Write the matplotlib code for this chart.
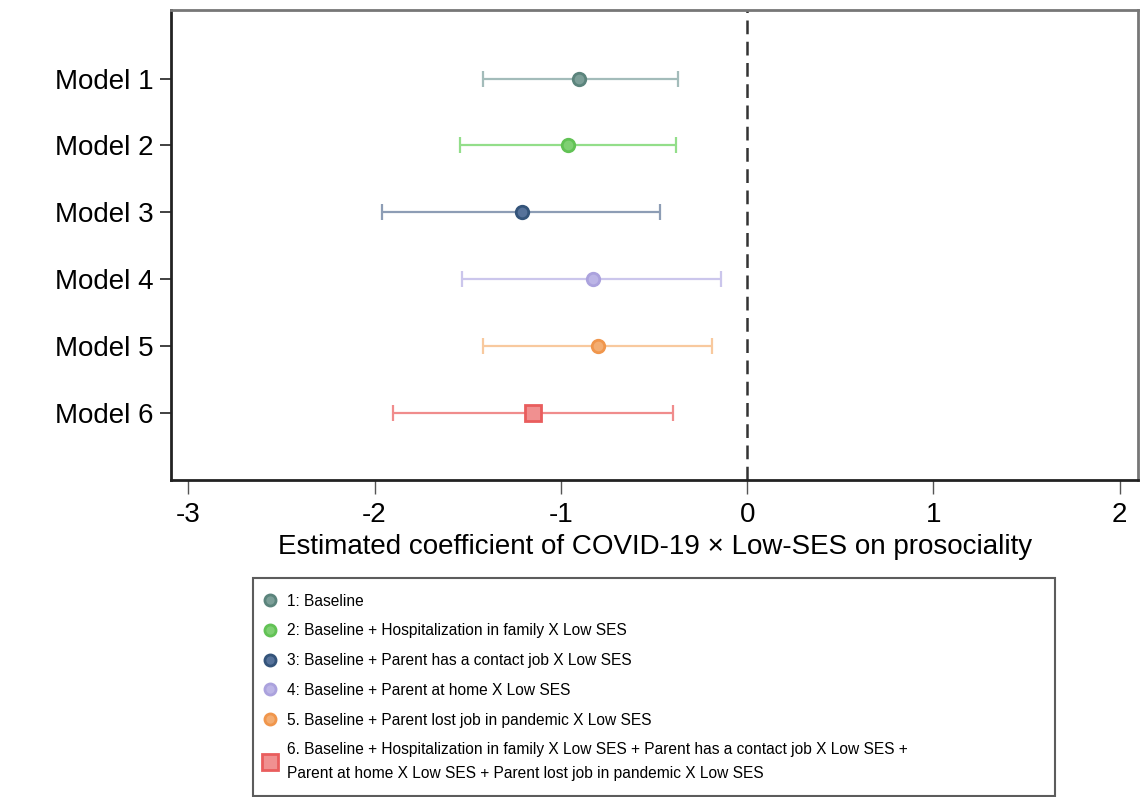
import numpy as np
import matplotlib.pyplot as plt
from matplotlib.lines import Line2D

plt.rcParams['font.family'] = ['Liberation Sans', 'DejaVu Sans']

# estimates and 95% CI
models = ["Model 1", "Model 2", "Model 3", "Model 4", "Model 5", "Model 6"]
coef = [-0.90, -0.96, -1.21, -0.83, -0.80, -1.15]
ci_low = [-1.42, -1.54, -1.96, -1.53, -1.42, -1.90]
ci_high = [-0.37, -0.38, -0.47, -0.14, -0.19, -0.40]
legend_labels = [
    "1: Baseline",
    "2: Baseline + Hospitalization in family X Low SES",
    "3: Baseline + Parent has a contact job X Low SES",
    "4: Baseline + Parent at home X Low SES",
    "5. Baseline + Parent lost job in pandemic X Low SES",
    "6. Baseline + Hospitalization in family X Low SES + Parent has a contact job X Low SES +\n"
    "Parent at home X Low SES + Parent lost job in pandemic X Low SES",
]

line_cols = ["#a3bcba", "#93de8a", "#8d9db5", "#cbc6ec", "#f8c99e", "#f08c8c"]
mark_cols = ["#5b847c", "#62c255", "#34547a", "#aba2dd", "#f0964c", "#e95d5d"]
mark_face = ["#7c9f98", "#7fd073", "#56729a", "#bcb5e6", "#f3ad72", "#f09090"]
markers = ["o", "o", "o", "o", "o", "s"]
sizes = [9, 9, 9, 9, 9, 12]

fig = plt.figure(figsize=(11.43, 7.97), dpi=100)
ax = fig.add_axes([0.150, 0.398, 0.846, 0.589])

ypos = np.arange(1, len(models) + 1)
for i in range(len(models)):
    ax.errorbar(coef[i], ypos[i],
                xerr=[[coef[i] - ci_low[i]], [ci_high[i] - coef[i]]],
                fmt='none', ecolor=line_cols[i], elinewidth=1.6, capsize=5.5, capthick=1.6)
    ax.plot(coef[i], ypos[i], marker=markers[i], ms=sizes[i], color=mark_face[i],
            mec=mark_cols[i], mew=2, linestyle='none')

ax.axvline(0, color='#333333', linestyle=(0, (5.5, 3)), linewidth=1.8)

ax.set_xlim(-3.09, 2.10)
ax.set_ylim(7, -0.02)
ax.set_yticks(ypos)
ax.set_yticklabels(models, fontsize=20)
ax.set_xticks([-3, -2, -1, 0, 1, 2])
ax.set_xticklabels(["-3", "-2", "-1", "0", "1", "2"], fontsize=20)
ax.tick_params(axis='y', length=8, width=1.3, color='#333333', pad=5)
ax.tick_params(axis='x', length=10, width=1.0, color='#555555', pad=6)
ax.set_xlabel("Estimated coefficient of COVID-19 × Low-SES on prosociality", fontsize=20, labelpad=4)
for side, s in ax.spines.items():
    s.set_linewidth(2)
    s.set_color('#222222' if side in ('left', 'bottom') else '#777777')

handles = []
for i in range(len(models)):
    handles.append(Line2D([], [], marker=markers[i], linestyle='none',
                          ms=8 if i < 5 else 12, color=mark_face[i],
                          mec=mark_cols[i], mew=2))

leg = fig.legend(handles, legend_labels, loc='upper left',
                 bbox_to_anchor=(253 / 1143, 1 - 578 / 797, 802 / 1143, 0.0),
                 mode='expand', borderaxespad=0, fontsize=11.2, frameon=True,
                 fancybox=False, edgecolor='#333333', handletextpad=1.0,
                 labelspacing=0.95, borderpad=1.0, handlelength=0.2)
leg.get_frame().set_linewidth(1.5)
for t in leg.get_texts():
    t.set_linespacing(1.7)

fig.savefig("out.png", dpi=100)
